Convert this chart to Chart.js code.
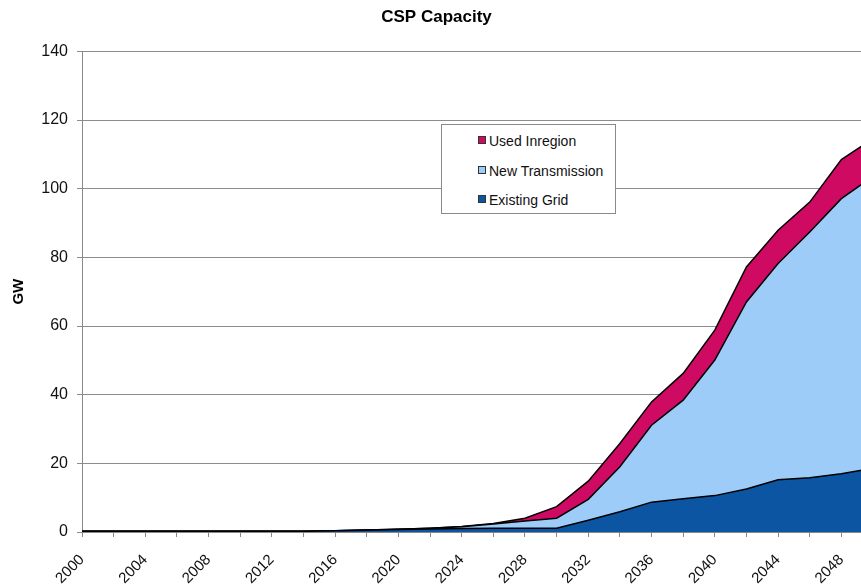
<!DOCTYPE html>
<html>
<head>
<meta charset="utf-8">
<script src="https://cdn.jsdelivr.net/npm/chart.js@4.4.1/dist/chart.umd.min.js"></script>
<style>
  html, body { margin:0; padding:0; background:#fff; overflow:hidden; }
  #wrap { position:relative; width:902px; height:588px; }
  #legend { position:absolute; left:441px; top:124px; width:173px; height:88px; border:1px solid #8a8a8a; background:#fff;
            font-family:"Liberation Sans", Arial, sans-serif; font-size:14px; color:#111; }
  .item { position:absolute; left:36px; height:16px; line-height:16px; white-space:nowrap; }
  .sw { display:inline-block; width:6px; height:6px; border:1px solid #333; margin-right:3px; vertical-align:2px; }
</style>
</head>
<body>
<div id="wrap">
  <canvas id="c" width="902" height="588"></canvas>
  <div id="legend"></div>
</div>
<script>
const years = ["2000","2002","2004","2006","2008","2010","2012","2014","2016","2018","2020","2022","2024",
               "2026","2028","2030","2032","2034","2036","2038","2040","2042","2044","2046","2048","2050"];
const existingGrid    = [0.2,0.2,0.2,0.2,0.2,0.2,0.2,0.2,0.4,0.5,0.7,0.9,1.0,1.1,1.1,1.1,3.4,5.9,8.7,9.7,10.6,12.5,15.2,15.8,17.0,18.6];
const newTransmission = [0,0,0,0,0,0,0,0,0,0.1,0.1,0.2,0.5,1.2,2.1,2.9,6.1,13.1,22.4,28.7,39.5,54.5,63.0,71.6,80.1,85.0];
const usedInregion    = [0,0,0,0,0,0,0,0,0,0,0,0,0.1,0.2,0.8,3.4,5.3,6.8,6.8,7.8,8.7,10.2,9.7,8.7,11.4,11.0];
const seriesNames  = ["Existing Grid","New Transmission","Used Inregion"];
const seriesColors = ["#0C55A3","#9DCCF8","#CF0A63"];
const yTicks = [0,20,40,60,80,100,120,140];

const font = "'Liberation Sans', Arial, sans-serif";
const seriesData = [existingGrid, newTransmission, usedInregion];
const datasets = seriesData.map((d, i) => ({
  label: seriesNames[i],
  data: d,
  backgroundColor: seriesColors[i],
  borderColor: "#000",
  borderWidth: 1.5,
  pointRadius: 0,
  tension: 0,
  fill: i === 0 ? "origin" : "-1"
}));

new Chart(document.getElementById("c"), {
  type: "line",
  data: { labels: years, datasets },
  options: {
    responsive: false,
    animation: false,
    devicePixelRatio: 1,
    layout: { padding: { right: 29, left: 0, top: 0, bottom: 0 } },
    plugins: {
      legend: { display: false },
      tooltip: { enabled: false },
      title: { display: true, text: "CSP Capacity", color: "#000",
               font: { family: font, size: 17, weight: "bold" }, padding: { top: 7, bottom: 24 } }
    },
    scales: {
      x: {
        type: "category",
        offset: false,
        stacked: true,
        grid: { display: true, drawOnChartArea: false, drawTicks: true, tickLength: 5, color: "#888" },
        border: { color: "#888", width: 1 },
        ticks: {
          autoSkip: false, minRotation: 45, maxRotation: 45, color: "#111", padding: 14,
          font: { family: font, size: 15 },
          callback: function(v, i) { return i % 2 === 0 ? years[i] : ""; }
        },
        afterFit: s => { s.height = 56; }
      },
      y: {
        stacked: true,
        min: 0, max: 140,
        afterBuildTicks: s => { s.ticks = yTicks.map(v => ({ value: v })); },
        grid: { color: "#8c8c8c", lineWidth: 1, drawTicks: true, tickLength: 5 },
        border: { color: "#888", width: 1 },
        ticks: { color: "#111", padding: 9, font: { family: font, size: 16 } },
        title: { display: true, text: "GW", color: "#000", font: { family: font, size: 15, weight: "bold" }, padding: { top: 10, bottom: 10 } },
        afterFit: s => { s.width = 82; }
      }
    }
  }
});

const legend = document.getElementById("legend");
const rowsTop = [8, 38, 67];
[2,1,0].forEach((idx, r) => {
  const it = document.createElement("div");
  it.className = "item";
  it.style.top = rowsTop[r] + "px";
  const sw = document.createElement("span");
  sw.className = "sw";
  sw.style.background = seriesColors[idx];
  it.appendChild(sw);
  it.appendChild(document.createTextNode(seriesNames[idx]));
  legend.appendChild(it);
});
</script>
</body>
</html>
